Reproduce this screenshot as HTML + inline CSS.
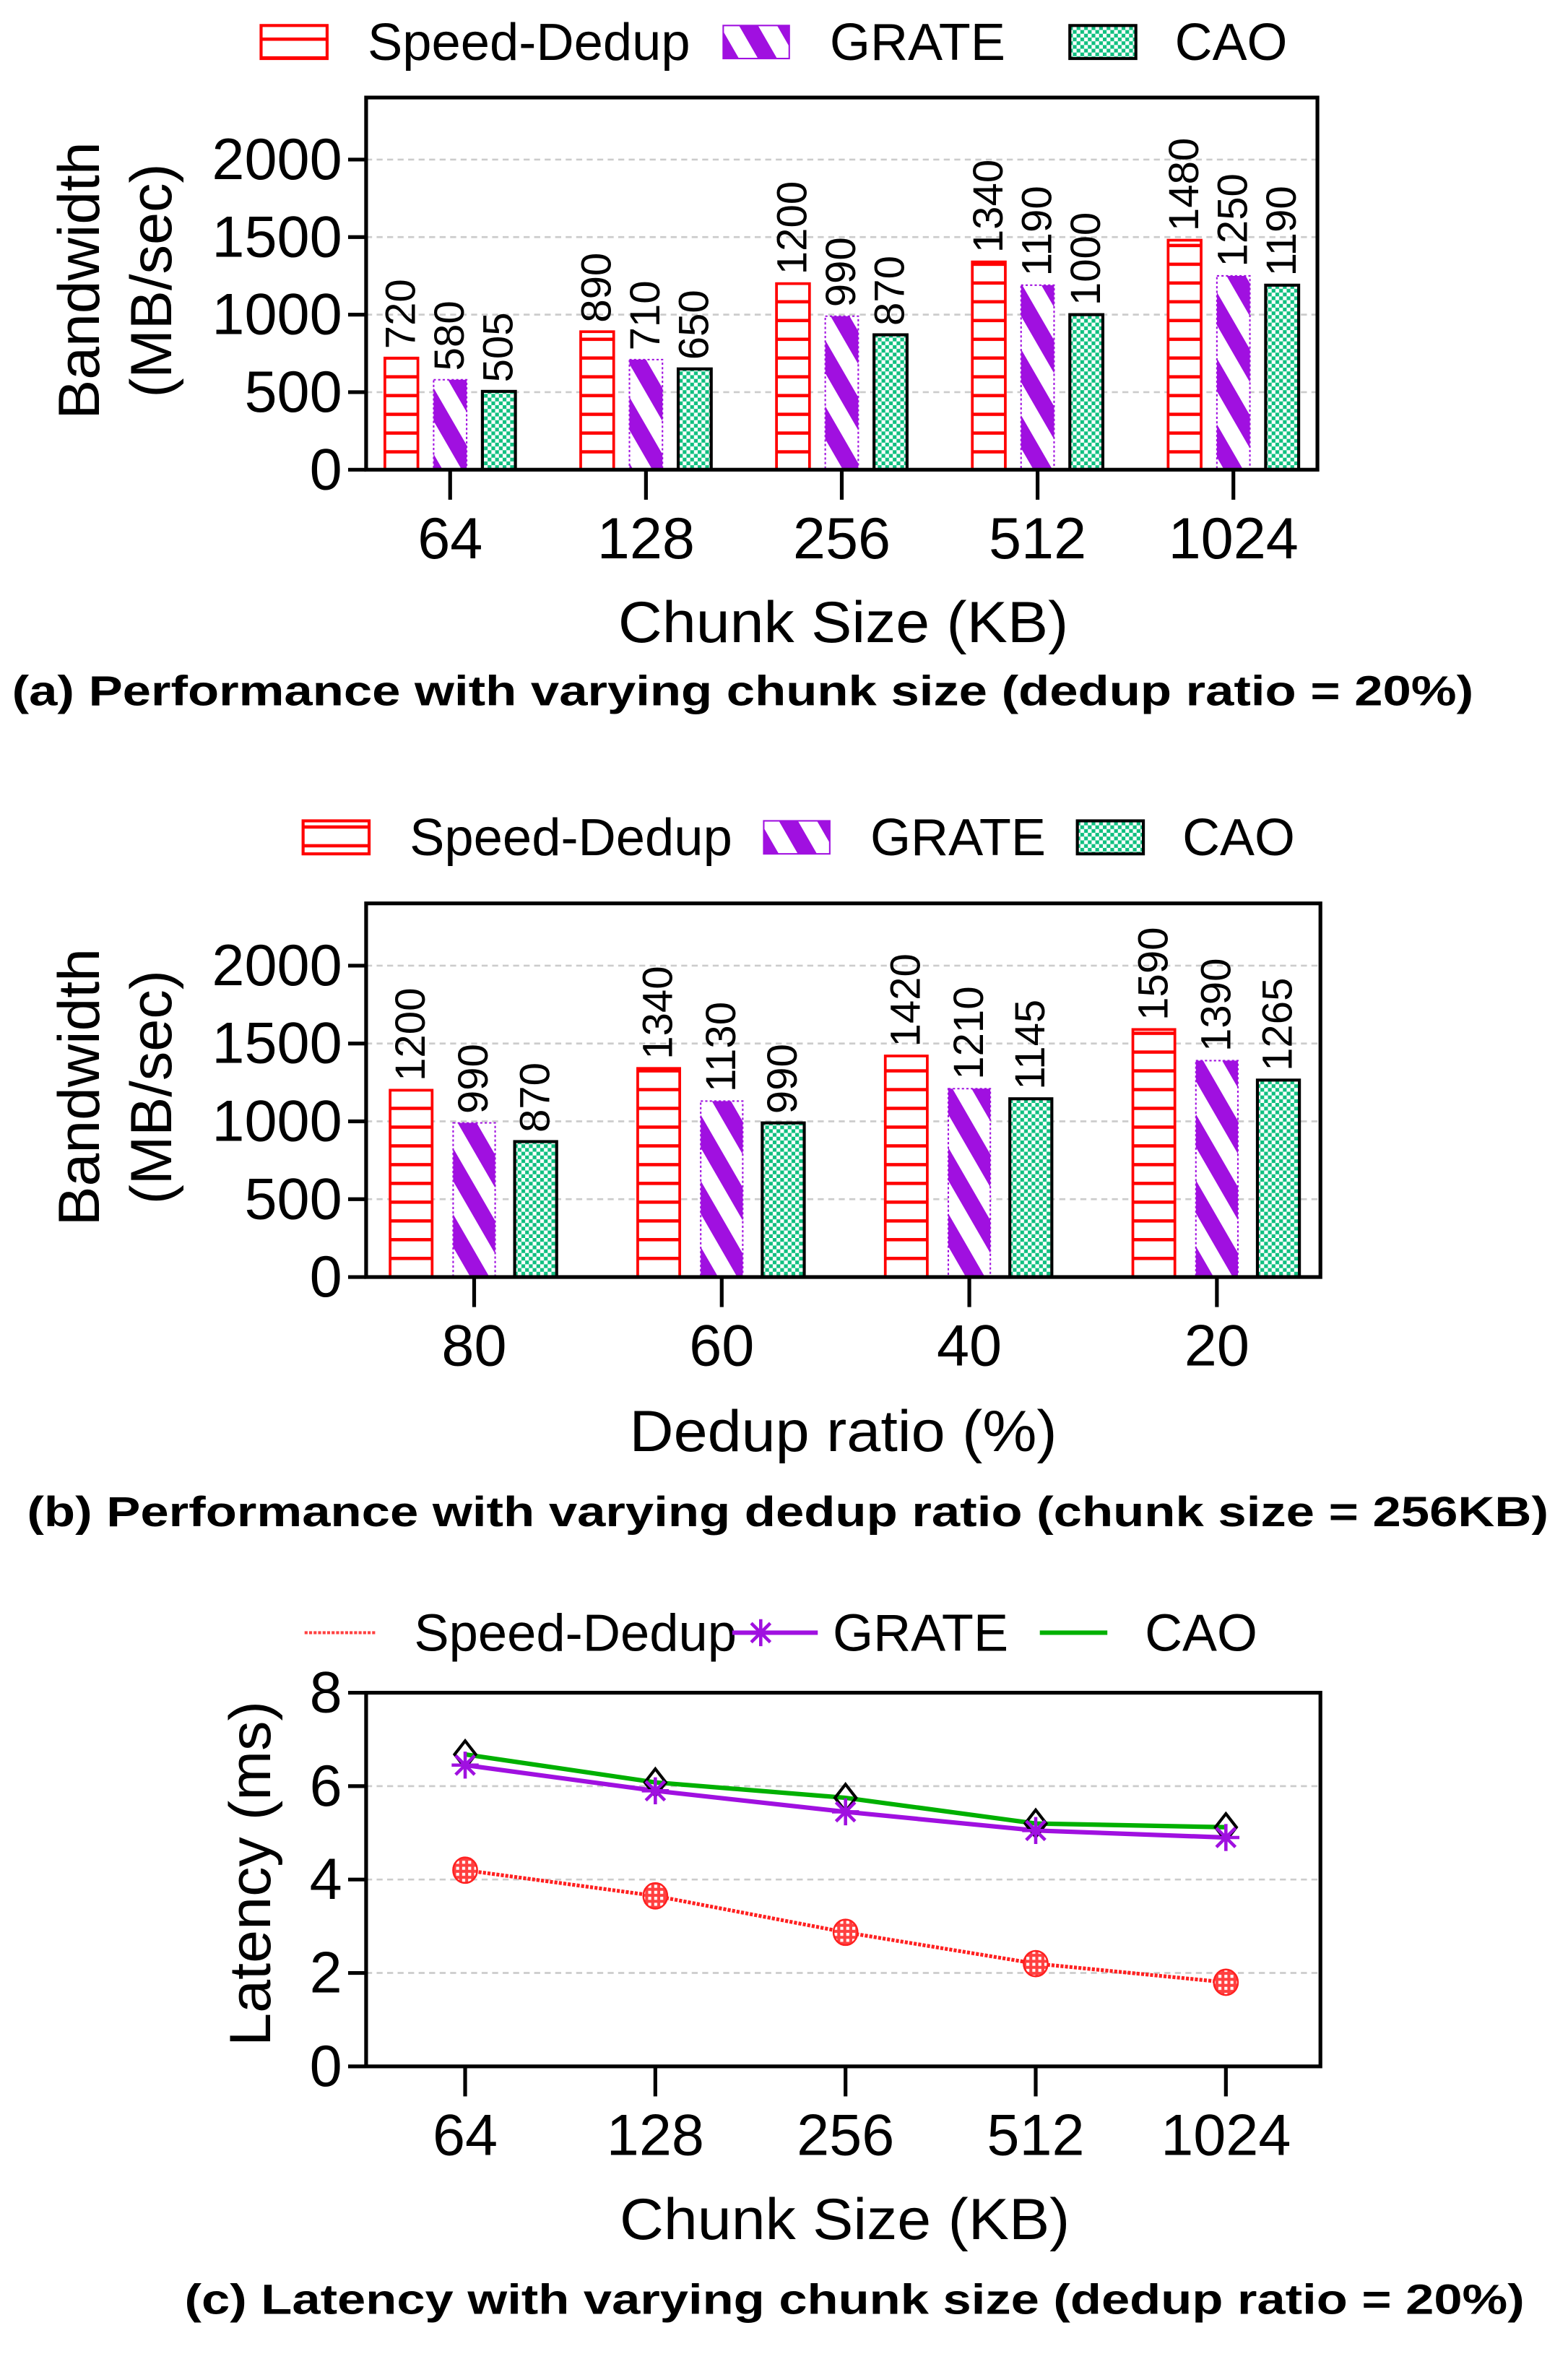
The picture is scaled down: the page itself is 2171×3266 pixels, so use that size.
<!DOCTYPE html>
<html><head><meta charset="utf-8"><style>
html,body{margin:0;padding:0;background:#fff}
svg{display:block}
text{font-family:"Liberation Sans",sans-serif}
</style></head><body>
<svg id="fig" width="2171" height="3266" viewBox="0 0 1045 1572" preserveAspectRatio="none" xmlns="http://www.w3.org/2000/svg">
<defs>
<pattern id="pRed" patternUnits="userSpaceOnUse" width="10" height="12.5"><rect width="10" height="12.5" fill="#fff"/><rect y="0" width="10" height="2.2" fill="#ff0000"/></pattern>
<pattern id="pPur" patternUnits="userSpaceOnUse" width="22" height="22" patternTransform="rotate(-30)"><rect width="22" height="22" fill="#fff"/><rect width="11" height="22" fill="#a010e0"/></pattern>
<pattern id="pGrn" patternUnits="userSpaceOnUse" width="5" height="5"><rect width="5" height="5" fill="#fff"/><rect width="2.5" height="2.5" fill="#10c080"/><rect x="2.5" y="2.5" width="2.5" height="2.5" fill="#10c080"/></pattern>
<pattern id="pDot" patternUnits="userSpaceOnUse" width="4" height="4"><rect width="4" height="4" fill="#ff4040"/><rect width="2" height="2" fill="#fff"/></pattern>
</defs>
</svg>
<script>
// Panel (a)
const catsA = ["64","128","256","512","1024"];
const speedA = [720,890,1200,1340,1480];
const grateA = [580,710,990,1190,1250];
const caoA = [505,650,870,1000,1190];
// Panel (b)
const catsB = ["80","60","40","20"];
const speedB = [1200,1340,1420,1590];
const grateB = [990,1130,1210,1390];
const caoB = [870,990,1145,1265];
const barTicks = [0,500,1000,1500,2000];
// Panel (c)
const catsC = ["64","128","256","512","1024"];
const speedC = [4.2,3.65,2.87,2.2,1.8];
const grateC = [6.45,5.9,5.45,5.05,4.9];
const caoC = [6.68,6.08,5.75,5.2,5.12];
const latTicks = [0,2,4,6,8];

const NS="http://www.w3.org/2000/svg";
const svg=document.getElementById('fig');
function el(tag,attrs,parent,txt){const e=document.createElementNS(NS,tag);for(const k in attrs)e.setAttribute(k,attrs[k]);if(txt!==undefined)e.textContent=txt;(parent||svg).appendChild(e);return e;}

function text(x,y,s,size,opts,name){
  const t=el('text',Object.assign({x:x,y:y,'font-size':size,fill:'#000'},opts||{}),svg,s);
  
  
  return t;
}

function star(x,y,r,parent,name){
  const g=el('g',{stroke:'#a010e0','stroke-width':2.2},parent);
  
  
  for(let k=0;k<4;k++){const a=k*Math.PI/4+Math.PI/2;
    el('line',{x1:x-r*Math.cos(a),y1:y-r*Math.sin(a),x2:x+r*Math.cos(a),y2:y+r*Math.sin(a)},g);}
  return g;
}

function legendBars(y,items){
  items.forEach(it=>{
    const r=el('rect',{x:it.bx,y:y-11,width:44,height:22,fill:it.fill,stroke:it.stroke,'stroke-width':it.sw||2});
    
    
    text(it.tx,y+12,it.label,35,{textLength:it.tl,lengthAdjust:'spacingAndGlyphs'},'legend-label-'+it.key);
  });
}

function barPanel(p){
  const g=el('g',{});
  
  
  const yv=v=>p.y0-(v/2400)*(p.y0-p.y1);
  const n=p.cats.length;
  const xc=i=>p.xFirst+i*(p.xLast-p.xFirst)/(n-1);
  barTicks.forEach(t=>{
    if(t>0){const gl=el('line',{x1:p.x0,x2:p.x1,y1:yv(t),y2:yv(t),stroke:'#ccc','stroke-width':1.3,'stroke-dasharray':'4 3'},g);
      
      }
    const tk=el('line',{x1:p.x0-12,x2:p.x0,y1:yv(t),y2:yv(t),stroke:'#000','stroke-width':2.5},g);
    
    
    text(p.x0-16,yv(t)+13,String(t),39,{'text-anchor':'end'},'y-tick-label');
  });
  const series=[
    {vals:p.s1,fill:'url(#pRed)',stroke:'#ff0000',sw:1.8,off:p.off[0],key:'speed-dedup'},
    {vals:p.s2,fill:'url(#pPur)',stroke:'#a010e0',sw:1,off:p.off[1],key:'grate',dash:'1.5 1.5'},
    {vals:p.s3,fill:'url(#pGrn)',stroke:'#000',sw:2,off:p.off[2],key:'cao'}];
  series.forEach(s=>{
    s.vals.forEach((v,i)=>{
      const cx=xc(i)+s.off;
      const a={x:cx-p.bw/2,y:yv(v),width:p.bw,height:p.y0-yv(v),fill:s.fill,stroke:s.stroke,'stroke-width':s.sw};
      if(s.dash)a['stroke-dasharray']=s.dash;
      const r=el('rect',a,g);
      
      
      const lx=cx+9, ly=yv(v)-6;
      text(lx,ly,String(v),28,{transform:'rotate(-90 '+lx+' '+ly+')'},'value-label');
    });
  });
  p.cats.forEach((c,i)=>{
    const tk=el('line',{x1:xc(i),x2:xc(i),y1:p.y0,y2:p.y0+20,stroke:'#000','stroke-width':2.5},g);
    
    
    text(xc(i),p.y0+59,c,39,{'text-anchor':'middle'},'x-tick-label');
  });
  const box=el('rect',{x:p.x0,y:p.y1,width:p.x1-p.x0,height:p.y0-p.y1,fill:'none',stroke:'#000','stroke-width':2.5},g);
  
  
  const ya=(p.y0+p.y1)/2-2;
  text(66,ya,'Bandwidth',39,{'text-anchor':'middle',transform:'rotate(-90 66 '+ya+')',textLength:185,lengthAdjust:'spacingAndGlyphs'},'y-axis-title');
  text(114,ya,'(MB/sec)',39,{'text-anchor':'middle',transform:'rotate(-90 114 '+ya+')'},'y-axis-title-unit');
}

legendBars(28,[
 {bx:174,tx:245,label:'Speed-Dedup',fill:'url(#pRed)',stroke:'#ff0000',key:'speed-dedup',tl:215},
 {bx:482,tx:553,label:'GRATE',fill:'url(#pPur)',stroke:'#a010e0',sw:1,key:'grate',tl:117},
 {bx:713,tx:783,label:'CAO',fill:'url(#pGrn)',stroke:'#000',key:'cao',tl:75}]);
barPanel({name:'chart-a',cats:catsA,s1:speedA,s2:grateA,s3:caoA,x0:244,x1:878,y0:313,y1:65,xFirst:300,xLast:822,bw:22,off:[-32.5,0,32.5]});
text(562,428,'Chunk Size (KB)',39,{'text-anchor':'middle',textLength:300,lengthAdjust:'spacingAndGlyphs'},'x-axis-title-a');
text(8,470,'(a) Performance with varying chunk size (dedup ratio = 20%)',28,{'font-weight':'bold',textLength:974,lengthAdjust:'spacingAndGlyphs'},'caption-a');

legendBars(558,[
 {bx:202,tx:273,label:'Speed-Dedup',fill:'url(#pRed)',stroke:'#ff0000',key:'speed-dedup-b',tl:215},
 {bx:509,tx:580,label:'GRATE',fill:'url(#pPur)',stroke:'#a010e0',sw:1,key:'grate-b',tl:117},
 {bx:718,tx:788,label:'CAO',fill:'url(#pGrn)',stroke:'#000',key:'cao-b',tl:75}]);
barPanel({name:'chart-b',cats:catsB,s1:speedB,s2:grateB,s3:caoB,x0:244,x1:880,y0:851,y1:602,xFirst:316,xLast:811,bw:28,off:[-42,0,41]});
text(562,967,'Dedup ratio (%)',39,{'text-anchor':'middle',textLength:285,lengthAdjust:'spacingAndGlyphs'},'x-axis-title-b');
text(18,1017,'(b) Performance with varying dedup ratio (chunk size = 256KB)',28,{'font-weight':'bold',textLength:1014,lengthAdjust:'spacingAndGlyphs'},'caption-b');

(function(){
  const x0=244,x1=880,y0=1377,y1=1128;
  const g=el('g',{});
  
  
  const yv=v=>y0-(v/8)*(y0-y1);
  const xc=i=>310+i*(817-310)/(catsC.length-1);
  latTicks.forEach(t=>{
    if(t>0&&t<8){const gl=el('line',{x1:x0,x2:x1,y1:yv(t),y2:yv(t),stroke:'#ccc','stroke-width':1.3,'stroke-dasharray':'4 3'},g);
      
      }
    const tk=el('line',{x1:x0-12,x2:x0,y1:yv(t),y2:yv(t),stroke:'#000','stroke-width':2.5},g);
    
    
    text(x0-16,yv(t)+13,String(t),39,{'text-anchor':'end'},'y-tick-label');
  });
  const pts=a=>a.map((v,i)=>xc(i)+','+yv(v)).join(' ');
  const l1=el('polyline',{points:pts(caoC),fill:'none',stroke:'#00b000','stroke-width':3},g);
  
  
  const l2=el('polyline',{points:pts(grateC),fill:'none',stroke:'#a010e0','stroke-width':3},g);
  
  
  const l3=el('polyline',{points:pts(speedC),fill:'none',stroke:'#ff2020','stroke-width':2.5,'stroke-dasharray':'2 1'},g);
  
  
  caoC.forEach((v,i)=>{
    const x=xc(i),y=yv(v);
    const m=el('polygon',{points:(x)+','+(y-9)+' '+(x+7)+','+y+' '+x+','+(y+9)+' '+(x-7)+','+y,fill:'none',stroke:'#000','stroke-width':2},g);
    
    
  });
  grateC.forEach((v,i)=>{ star(xc(i),yv(v),9,g,'point-grate'); });
  speedC.forEach((v,i)=>{
    const x=xc(i),y=yv(v);
    const m=el('ellipse',{cx:x,cy:y,rx:8,ry:8.5,fill:'url(#pDot)',stroke:'#ff2020','stroke-width':1.2},g);
    
    
  });
  catsC.forEach((c,i)=>{
    const tk=el('line',{x1:xc(i),x2:xc(i),y1:y0,y2:y0+20,stroke:'#000','stroke-width':2.5},g);
    
    
    text(xc(i),y0+59,c,39,{'text-anchor':'middle'},'x-tick-label');
  });
  const box=el('rect',{x:x0,y:y1,width:x1-x0,height:y0-y1,fill:'none',stroke:'#000','stroke-width':2.5},g);
  
  
  const ya=(y0+y1)/2-4;
  text(180,ya,'Latency (ms)',39,{'text-anchor':'middle',transform:'rotate(-90 180 '+ya+')',textLength:230,lengthAdjust:'spacingAndGlyphs'},'y-axis-title-c');
  const a=el('line',{x1:203,x2:250,y1:1088,y2:1088,stroke:'#ff4040','stroke-width':2,'stroke-dasharray':'2 1'});
  
  
  text(276,1100,'Speed-Dedup',35,{textLength:215,lengthAdjust:'spacingAndGlyphs'},'legend-label-speed-dedup-c');
  const b=el('line',{x1:488,x2:545,y1:1088,y2:1088,stroke:'#a010e0','stroke-width':3});
  
  
  star(507,1088,9,svg,'legend-marker-grate');
  text(555,1100,'GRATE',35,{textLength:117,lengthAdjust:'spacingAndGlyphs'},'legend-label-grate-c');
  const c=el('line',{x1:693,x2:738,y1:1088,y2:1088,stroke:'#00b000','stroke-width':3});
  
  
  text(763,1100,'CAO',35,{textLength:75,lengthAdjust:'spacingAndGlyphs'},'legend-label-cao-c');
})();
text(563,1492,'Chunk Size (KB)',39,{'text-anchor':'middle',textLength:300,lengthAdjust:'spacingAndGlyphs'},'x-axis-title-c');
text(123,1542,'(c) Latency with varying chunk size (dedup ratio = 20%)',28,{'font-weight':'bold',textLength:893,lengthAdjust:'spacingAndGlyphs'},'caption-c');
</script>
</body></html>
